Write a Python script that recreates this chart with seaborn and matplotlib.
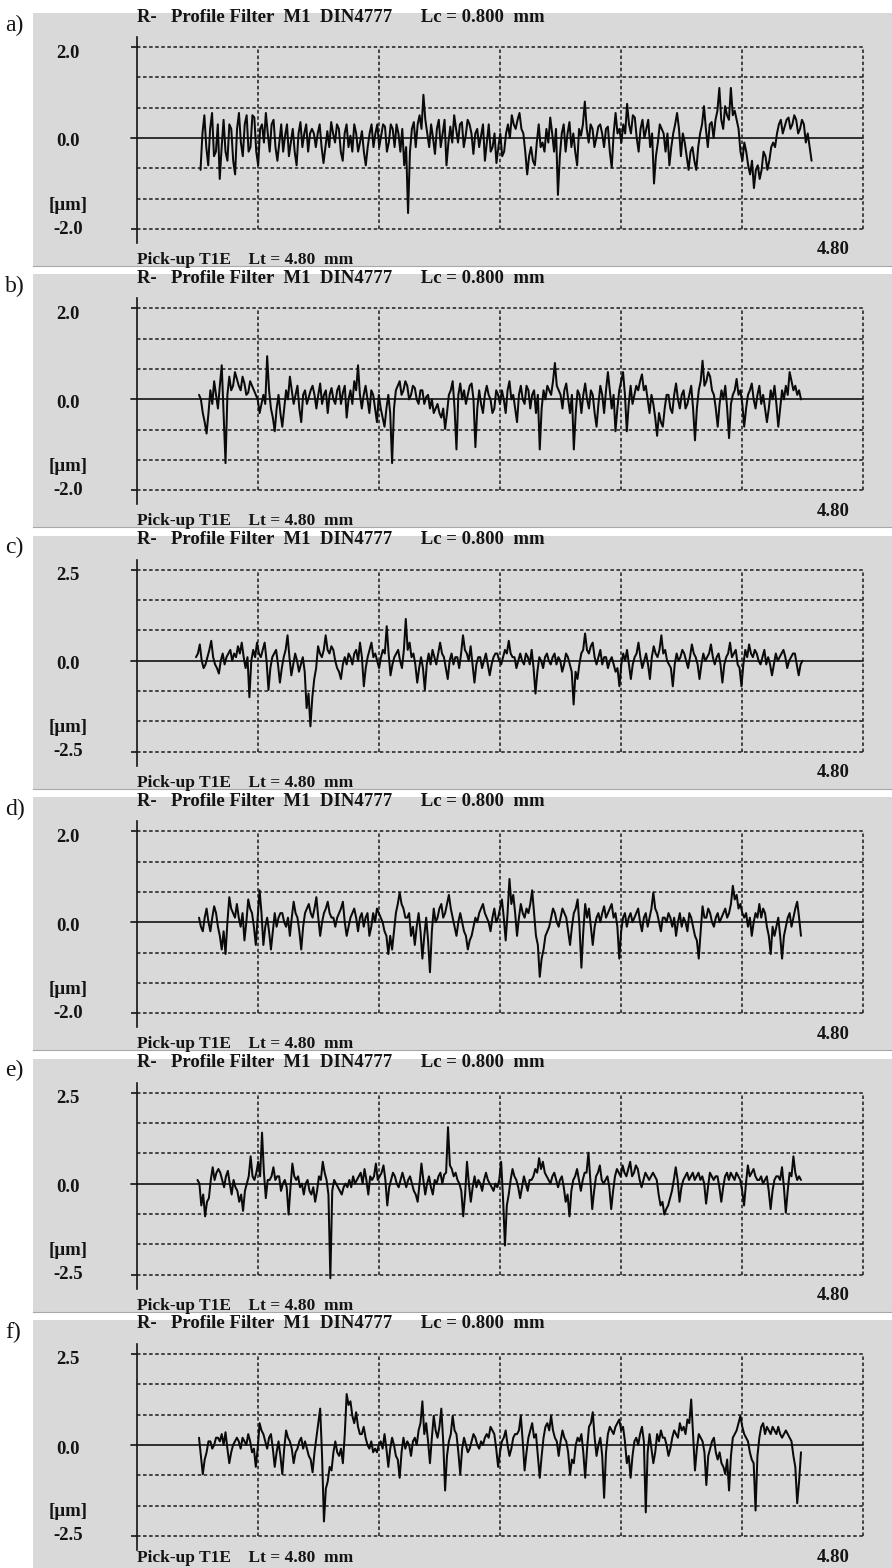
import numpy as np
import pandas as pd
import matplotlib
matplotlib.use("Agg")
import matplotlib.pyplot as plt
import seaborn as sns

sns.set_theme(style="white")
plt.rcParams["font.family"] = ["Liberation Serif", "DejaVu Serif"]

# ---------------- data ----------------
panel_labels = ["a)", "b)", "c)", "d)", "e)", "f)"]
y_limits = [2.0, 2.0, 2.5, 2.0, 2.5, 2.5]
y_top_labels = ["2.0", "2.0", "2.5", "2.0", "2.5", "2.5"]
y_bottom_labels = ["-2.0", "-2.0", "-2.5", "-2.0", "-2.5", "-2.5"]
x_start = [0.42, 0.41, 0.39, 0.41, 0.40, 0.41]   # mm, first sample
x_end = [4.46, 4.39, 4.40, 4.39, 4.39, 4.39]     # mm, last sample
grid_x = [0.8, 1.6, 2.4, 3.2, 4.0, 4.8]          # mm
title_text = "R-   Profile Filter  M1  DIN4777      Lc = 0.800  mm"
footer_text = "Pick-up T1E    Lt = 4.80  mm"
length_label = "4.80"
unit_label = "[µm]"

# main samples of each profile (µm)
profile_a = [
    -0.7, 0.5, -0.6, 0.55, -0.3, -0.9, 0.4, -0.5, 0.2, -0.8,
    0.55, -0.4, 0.5, -0.2, 0.45, -0.6, 0.3, 0.55, -0.3, 0.4,
    -0.5, 0.3, 0.05, -0.4, 0.2, -0.6, 0.35, 0.1, -0.3, 0.2,
    -0.2, 0.3, -0.55, 0.15, 0.35, -0.1, 0.2, -0.5, 0.3, 0.05,
    0.3, -0.3, 0.15, -0.6, 0.1, -0.2, 0.3, 0.05, 0.25, -0.1,
    0.2, 0.3, -0.3, -0.6, -1.65, 0.2, -0.2, 0.5, 0.95, 0.1,
    0.3, -0.35, 0.4, 0.1, -0.6, 0.25, 0.5, -0.1, 0.35, 0.05,
    0.3, -0.35, 0.2, 0.05, -0.5, 0.3, -0.2, -0.55, 0.1, -0.3,
    0.3, 0.5, 0.2, 0.55, 0.1, -0.8, -0.2, -0.6, 0.3, -0.1,
    0.2, 0.45, -0.3, -1.25, 0.1, -0.3, 0.35, 0.1, -0.6, 0.05,
    0.8, -0.1, 0.2, 0.0, 0.3, -0.2, 0.25, -0.65, 0.55, 0.2,
    0.3, 0.75, 0.1, 0.45, -0.3, 0.4, 0.2, -0.2, -1.0, -0.1,
    0.2, -0.3, -0.6, 0.1, 0.55, -0.4, -0.1, -0.7, -0.2, -0.7,
    0.1, 0.7, -0.2, 0.35, 0.4, 1.1, 0.2, 0.5, 1.1, 0.6,
    0.2, -0.5, -0.3, -0.8, -1.1, -0.6, -0.7, -0.4, -0.5, -0.1,
    0.1, 0.4, 0.25, 0.45, 0.3, 0.4, 0.2, 0.3, 0.1, -0.5]
between_a = [
    0.1, -0.2, 0.2, -0.4, 0.3, -0.2, -0.3, 0.3, -0.5, 0.2,
    -0.1, 0.3, -0.3, 0.5, -0.3, 0.2, -0.1, 0.1, 0.3, -0.2,
    -0.1, -0.3, 0.3, -0.1, -0.3, 0.1, -0.2, 0.3, 0.1, 0.1,
    0.1, -0.2, -0.2, -0.2, 0.1, 0.3, -0.3, 0.1, -0.2, -0.3,
    0.1, -0.1, -0.3, -0.2, 0.3, 0.1, -0.2, 0.3, -0.3, 0.3,
    -0.2, 0.1, 0.2, -0.2, -0.3, 0.35, 0.3, 0.2, 0.4, -0.2,
    0.0, 0.2, -0.2, 0.4, -0.1, -0.1, 0.2, 0.3, -0.2, 0.4,
    0.1, 0.1, -0.2, 0.3, -0.1, -0.3, 0.1, -0.2, -0.4, 0.1,
    0.0, 0.3, 0.4, 0.2, -0.3, -0.4, -0.5, -0.1, -0.2, -0.3,
    -0.1, 0.1, 0.2, -0.4, 0.3, 0.1, -0.2, -0.3, 0.2, 0.3,
    0.2, 0.3, -0.2, 0.25, 0.1, 0.2, -0.3, 0.1, 0.1, -0.1,
    0.1, 0.3, 0.5, 0.0, 0.2, 0.0, 0.4, 0.1, -0.4, 0.3,
    0.1, 0.1, -0.2, 0.3, 0.2, 0.1, -0.4, -0.3, -0.5, -0.2,
    0.3, 0.2, 0.3, 0.0, 0.6, 0.4, 0.7, 0.4, 0.5, 0.4,
    -0.3, -0.1, -0.6, -0.5, -0.7, -0.9, -0.3, -0.7, -0.2, -0.2,
    0.3, 0.1, 0.4, 0.2, 0.5, 0.1, 0.4, -0.1, -0.2]

profile_b = [
    0.1, -0.3, -0.75, 0.2, 0.4, -0.2, 0.75, -1.4, 0.5, 0.3,
    0.45, 0.2, 0.35, 0.15, 0.3, 0.1, -0.3, 0.1, 0.95, -0.2,
    -0.7, 0.1, -0.6, 0.2, 0.5, -0.1, 0.3, -0.5, 0.2, 0.05,
    0.3, -0.2, 0.35, 0.1, -0.3, 0.25, -0.1, 0.3, 0.15, -0.4,
    0.2, 0.4, 0.75, -0.2, 0.3, -0.3, 0.1, -0.5, -0.2, -0.6,
    0.1, -1.4, 0.2, 0.4, 0.2, 0.3, 0.1, 0.25, -0.1, 0.2,
    0.05, -0.2, -0.3, -0.1, -0.4, -0.65, 0.1, 0.4, -1.1, 0.35,
    0.2, 0.1, 0.35, -1.05, 0.2, -0.3, 0.3, 0.0, -0.2, 0.1,
    0.2, -0.3, 0.4, 0.1, -0.5, 0.3, -0.1, 0.2, 0.1, -0.3,
    -1.1, 0.2, 0.3, 0.1, 0.8, 0.2, -0.2, 0.35, -0.3, -1.1,
    0.2, -0.3, 0.35, -0.2, 0.1, -0.6, 0.3, -0.3, 0.6, -0.2,
    -0.7, 0.2, 0.6, -0.7, 0.3, 0.1, 0.2, 0.55, 0.3, -0.3,
    -0.1, -0.8, -0.5, -0.2, 0.1, -0.3, 0.35, -0.2, 0.2, -0.1,
    0.3, -0.9, 0.2, 0.85, 0.4, 0.5, 0.1, -0.6, 0.2, 0.3,
    -0.85, 0.1, 0.45, 0.2, -0.6, 0.1, 0.35, -0.2, 0.3, 0.1,
    -0.5, 0.2, 0.3, -0.6, 0.2, 0.3, 0.6, 0.2, 0.1, 0.0]
between_b = [
    0.0, -0.5, -0.3, -0.1, 0.1, 0.3, -0.3, 0.1, 0.2, 0.6,
    0.3, 0.5, 0.1, 0.4, 0.2, 0.0, -0.1, -0.1, 0.2, -0.4,
    -0.2, -0.3, -0.2, 0.0, 0.2, 0.1, -0.2, 0.1, -0.1, 0.2,
    0.1, 0.1, -0.1, 0.2, 0.1, 0.0, 0.2, -0.1, 0.3, 0.0,
    -0.1, 0.2, 0.1, 0.1, 0.0, 0.2, -0.2, 0.1, -0.4, -0.2,
    -0.3, -0.2, 0.3, 0.1, 0.4, 0.0, 0.3, 0.0, 0.2, -0.1,
    0.1, 0.0, -0.2, -0.3, -0.2, -0.3, 0.2, -0.2, 0.1, 0.0,
    -0.1, 0.3, 0.0, -0.2, -0.1, 0.1, 0.1, -0.3, 0.2, -0.1,
    0.0, 0.2, 0.0, -0.2, 0.1, 0.0, 0.3, -0.2, 0.2, 0.1,
    -0.2, 0.0, 0.2, 0.4, 0.3, 0.1, 0.2, 0.0, 0.1, -0.3,
    0.1, 0.1, 0.0, 0.2, -0.3, -0.1, 0.1, 0.2, 0.2, 0.1,
    -0.2, 0.4, 0.1, -0.1, -0.1, 0.3, 0.4, 0.2, 0.0, 0.1,
    -0.4, -0.3, -0.6, 0.1, -0.2, 0.1, 0.0, 0.1, -0.2, 0.1,
    -0.2, -0.2, 0.4, 0.3, 0.6, 0.2, -0.2, -0.1, 0.0, -0.2,
    -0.1, 0.2, 0.1, -0.1, -0.2, 0.2, 0.0, 0.1, -0.1, -0.2,
    -0.2, 0.0, -0.1, -0.2, 0.0, 0.1, 0.4, 0.3, 0.2]

profile_c = [
    0.1, 0.45, -0.2, 0.1, 0.55, -0.1, -0.35, 0.2, 0.1, 0.3,
    0.2, 0.4, 0.5, -0.2, -1.0, 0.3, 0.5, 0.1, 0.5, -0.8,
    0.1, 0.3, -0.6, 0.1, 0.7, -0.4, 0.2, -0.3, 0.1, -1.3,
    -1.8, -0.5, 0.4, 0.1, 0.7, 0.2, 0.3, -0.2, -0.5, 0.1,
    0.2, -0.1, 0.3, 0.5, -0.7, 0.1, 0.5, 0.2, -0.2, 0.3,
    0.95, -0.4, 0.1, 0.3, -0.2, 1.15, 0.5, 0.2, -0.6, 0.1,
    -0.8, 0.2, 0.3, -0.1, 0.5, 0.1, -0.5, 0.2, 0.1, -0.2,
    0.7, 0.2, 0.4, -0.6, 0.1, -0.2, 0.2, -0.4, 0.1, 0.2,
    -0.1, 0.3, 0.55, 0.1, -0.2, 0.2, -0.1, 0.1, 0.3, -0.9,
    0.1, -0.2, 0.2, -0.1, 0.2, 0.1, -0.3, 0.2, -0.1, -1.2,
    -0.5, 0.2, 0.75, 0.2, 0.5, -0.1, 0.3, 0.1, -0.2, 0.1,
    -0.3, -0.7, 0.2, 0.3, -0.5, 0.1, 0.5, -0.2, 0.2, -0.5,
    0.4, 0.1, 0.7, 0.3, -0.1, -0.7, 0.2, 0.1, 0.2, -0.2,
    0.45, 0.1, -0.5, 0.2, 0.1, 0.45, -0.1, 0.2, -0.6, 0.1,
    0.5, 0.2, -0.1, -0.7, 0.3, 0.45, 0.1, 0.2, -0.1, 0.3,
    0.1, -0.4, 0.2, 0.1, 0.3, -0.2, 0.1, 0.2, -0.4, 0.0]
between_c = [
    0.2, 0.0, -0.1, 0.3, 0.1, -0.2, 0.0, -0.1, 0.2, 0.0,
    0.1, 0.2, 0.1, 0.1, 0.0, 0.1, 0.2, 0.3, 0.0, -0.2,
    0.2, -0.1, -0.2, 0.3, 0.1, -0.1, 0.0, -0.1, -0.3, -0.9,
    -1.0, -0.2, 0.2, 0.3, 0.3, 0.4, 0.0, -0.3, -0.1, -0.1,
    0.1, 0.2, 0.0, 0.1, -0.2, 0.3, 0.1, 0.0, 0.1, 0.2,
    0.2, -0.1, 0.2, 0.0, 0.3, 0.3, 0.1, -0.1, -0.2, -0.2,
    -0.1, -0.1, 0.1, 0.2, 0.2, -0.2, 0.0, -0.1, 0.1, 0.2,
    0.3, 0.0, -0.1, -0.1, 0.1, 0.0, -0.1, -0.1, 0.2, 0.0,
    0.1, 0.2, 0.2, 0.1, 0.0, 0.0, 0.2, -0.1, -0.2, -0.3,
    0.0, 0.1, 0.0, 0.1, -0.1, 0.0, -0.1, 0.1, -0.3, -0.3,
    -0.1, 0.3, 0.3, 0.4, 0.1, 0.1, -0.1, 0.1, 0.0, -0.1,
    -0.2, -0.1, 0.0, -0.1, -0.1, 0.2, 0.1, 0.0, -0.1, 0.1,
    0.2, 0.3, 0.2, 0.0, -0.2, -0.1, 0.0, 0.3, 0.0, 0.1,
    0.2, -0.1, -0.1, 0.0, 0.2, 0.1, 0.1, -0.1, -0.1, 0.2,
    0.1, 0.3, -0.2, -0.1, 0.1, 0.2, 0.3, 0.0, 0.1, -0.1,
    -0.1, -0.1, 0.0, 0.2, 0.1, 0.0, 0.2, -0.1, -0.1]

profile_d = [
    0.1, -0.2, 0.3, -0.2, 0.35, -0.1, -0.6, -0.7, 0.55, 0.2,
    0.4, -0.1, -0.4, 0.5, 0.2, -0.5, 0.7, -0.5, 0.1, -0.6,
    0.2, 0.1, 0.2, -0.1, -0.3, 0.45, 0.1, -0.6, 0.2, 0.4,
    0.1, 0.55, -0.3, 0.2, 0.45, 0.1, -0.1, 0.2, 0.45, -0.3,
    0.1, 0.3, -0.2, 0.2, 0.1, -0.3, 0.2, 0.3, 0.1, -0.2,
    -0.7, -0.6, 0.2, 0.65, 0.3, 0.1, -0.3, -0.5, 0.2, -0.8,
    0.1, -1.1, 0.3, 0.1, 0.4, 0.2, 0.6, 0.1, -0.3, 0.2,
    -0.2, -0.6, -0.3, 0.1, 0.2, 0.4, 0.1, -0.2, 0.3, 0.1,
    0.5, -0.4, 0.95, 0.6, -0.3, 0.4, 0.1, 0.2, 0.7, -0.3,
    -1.2, -0.6, -0.2, 0.1, 0.2, -0.1, 0.3, 0.1, -0.5, 0.2,
    0.5, -1.0, 0.4, 0.3, -0.5, 0.1, 0.0, 0.35, 0.2, 0.4,
    0.2, -0.8, 0.1, -0.1, 0.2, 0.1, 0.3, -0.2, 0.2, 0.1,
    0.65, 0.2, -0.2, 0.1, 0.2, -0.1, -0.3, 0.2, 0.1, -0.2,
    0.1, -0.3, -0.8, 0.35, 0.1, 0.2, -0.1, 0.2, 0.1, 0.3,
    0.2, 0.8, 0.6, 0.4, 0.1, -0.1, -0.3, 0.2, 0.4, 0.3,
    -0.1, -0.7, -0.3, 0.1, -0.8, -0.1, 0.2, 0.1, 0.45, -0.3]
between_d = [
    -0.1, 0.1, 0.0, 0.1, 0.2, -0.3, -0.2, 0.0, 0.3, 0.1,
    0.1, 0.2, 0.0, 0.3, -0.1, 0.1, 0.2, -0.1, -0.2, -0.2,
    -0.1, 0.2, 0.0, 0.1, 0.1, 0.2, -0.2, -0.1, 0.3, 0.2,
    0.3, 0.1, 0.0, 0.3, 0.2, 0.1, 0.1, 0.3, 0.0, -0.1,
    0.2, 0.1, 0.1, -0.1, 0.2, -0.1, 0.0, 0.2, 0.0, -0.3,
    -0.3, -0.2, 0.4, 0.4, 0.1, 0.2, -0.1, -0.1, -0.2, -0.3,
    -0.4, -0.2, 0.0, 0.3, 0.1, 0.4, 0.3, -0.1, 0.0, 0.0,
    -0.3, -0.4, -0.1, 0.0, 0.3, 0.2, 0.0, 0.1, 0.0, 0.3,
    0.1, 0.2, 0.4, 0.2, 0.1, 0.2, 0.3, 0.4, 0.2, -0.5,
    -0.8, -0.3, -0.1, 0.3, 0.0, 0.1, 0.2, -0.2, -0.1, 0.3,
    -0.1, -0.2, 0.1, -0.1, -0.1, 0.2, 0.2, 0.1, 0.3, 0.1,
    -0.1, -0.2, 0.2, 0.1, 0.0, 0.2, 0.0, 0.1, -0.1, 0.3,
    0.3, 0.0, 0.1, 0.0, 0.1, 0.1, 0.0, -0.1, 0.0, 0.2,
    -0.1, -0.4, -0.2, 0.1, 0.3, 0.0, 0.1, 0.0, 0.2, 0.1,
    0.4, 0.5, 0.3, 0.2, 0.2, 0.1, 0.0, 0.1, 0.1, 0.2,
    -0.3, -0.1, -0.1, -0.3, -0.3, 0.1, -0.1, 0.3, 0.1]

profile_e = [
    0.1, -0.6, -0.9, -0.4, 0.45, 0.3, 0.3, -0.1, 0.35, -0.3,
    -0.1, -0.5, -0.75, 0.0, 0.75, 0.1, 0.6, 1.4, -0.4, 0.1,
    0.45, 0.2, -0.2, 0.1, -0.85, 0.55, 0.1, -0.1, -0.3, 0.1,
    -0.3, -0.5, 0.2, 0.6, 0.1, -2.6, 0.1, -0.1, -0.3, 0.0,
    0.1, 0.2, 0.1, 0.3, 0.4, -0.3, 0.1, 0.55, 0.2, 0.5,
    -0.6, 0.1, 0.2, -0.1, 0.3, -0.1, 0.2, -0.2, -0.5, 0.55,
    -0.3, 0.2, -0.3, 0.0, 0.3, 0.25, 1.55, 0.4, 0.3, 0.0,
    -0.9, 0.6, -0.5, 0.2, 0.1, -0.2, 0.3, 0.0, -0.2, -0.1,
    0.6, -1.7, -0.3, 0.4, 0.1, -0.4, 0.2, -0.2, 0.1, 0.4,
    0.7, 0.6, 0.2, 0.0, 0.3, -0.1, 0.2, -0.5, -0.9, 0.1,
    0.4, -0.2, 0.3, 0.85, -0.7, 0.2, 0.5, 0.0, 0.2, -0.7,
    0.2, 0.3, 0.5, 0.2, 0.6, 0.3, 0.4, -0.1, 0.3, 0.1,
    0.3, 0.1, -0.6, -0.85, -0.6, -0.2, 0.45, -0.5, 0.1, 0.3,
    0.2, 0.1, 0.3, 0.2, -0.55, 0.3, 0.1, 0.2, -0.5, 0.2,
    0.1, 0.2, 0.3, 0.1, -0.6, 0.5, 0.3, 0.2, 0.1, 0.0,
    0.2, -0.7, 0.1, 0.2, 0.45, -0.8, 0.3, 0.75, 0.1, 0.1]
between_e = [
    0.0, -0.3, -0.5, 0.1, 0.1, 0.4, 0.1, 0.2, 0.0, 0.1,
    -0.2, -0.3, -0.2, 0.2, 0.2, 0.3, 0.2, 0.3, 0.1, 0.2,
    0.1, 0.2, 0.0, -0.1, -0.1, 0.2, 0.2, 0.0, 0.0, -0.2,
    -0.1, -0.2, 0.1, 0.3, -0.3, -0.2, 0.0, -0.2, -0.1, -0.1,
    -0.1, 0.0, 0.2, 0.0, 0.1, 0.2, 0.2, 0.1, 0.3, 0.1,
    -0.1, 0.3, 0.0, 0.1, 0.1, 0.1, 0.0, -0.3, 0.0, 0.1,
    0.0, -0.1, 0.1, 0.2, 0.0, 0.3, 0.5, 0.2, 0.1, -0.2,
    -0.3, 0.0, -0.1, -0.1, 0.0, 0.1, 0.1, -0.1, 0.0, 0.1,
    -0.4, -0.6, 0.1, 0.2, -0.1, -0.1, 0.0, 0.1, 0.2, 0.3,
    0.4, 0.3, 0.1, 0.2, 0.1, 0.1, -0.1, -0.3, -0.2, 0.2,
    0.1, 0.1, 0.3, 0.1, -0.2, 0.3, 0.1, 0.1, -0.1, -0.2,
    0.4, 0.2, 0.3, 0.4, 0.2, 0.5, 0.1, 0.1, 0.2, 0.2,
    0.2, -0.3, -0.5, -0.7, -0.4, 0.1, 0.1, -0.1, 0.2, 0.1,
    0.3, 0.2, 0.1, 0.0, -0.1, 0.2, 0.2, -0.1, -0.1, 0.3,
    0.3, 0.1, 0.2, -0.2, 0.0, 0.2, 0.4, 0.1, 0.2, 0.1,
    -0.2, -0.2, 0.2, 0.1, -0.1, -0.2, 0.2, 0.3, 0.2]

profile_f = [
    0.2, -0.8, -0.2, 0.1, 0.0, 0.2, 0.3, 0.35, -0.5, 0.0,
    0.2, -0.1, 0.1, 0.3, -0.2, -0.6, 0.6, 0.3, -0.1, 0.3,
    -0.6, 0.1, -0.8, 0.4, 0.1, -0.5, -0.1, 0.2, 0.1, -0.3,
    -0.75, 0.2, 1.0, -2.1, -1.0, -0.7, 0.1, -0.3, -0.5, 1.4,
    1.2, 0.6, 0.5, 0.3, 0.2, -0.1, -0.2, -0.2, 0.1, 0.3,
    -0.6, 0.2, -0.3, -0.9, 0.2, 0.1, -0.3, 0.2, 0.4, 1.2,
    0.6, -0.5, 0.8, 0.2, 1.0, -1.25, 0.1, 0.8, 0.3, -0.8,
    0.2, -0.2, 0.1, 0.2, -0.1, 0.0, 0.3, 0.5, 0.3, -0.6,
    0.1, 0.4, -0.3, 0.2, 0.3, 0.8, -0.7, 0.2, 0.6, 0.3,
    -0.9, 0.2, 0.6, 0.8, 0.2, -0.3, 0.4, 0.1, -0.8, -0.5,
    0.2, 0.3, -0.9, 0.5, 0.9, -0.3, 0.2, -1.45, 0.3, 0.4,
    0.5, 0.7, 0.5, -0.5, -0.9, 0.1, 0.0, 0.5, -1.85, 0.3,
    -0.5, 0.3, 0.4, 0.2, -0.3, 0.2, 0.3, 0.6, 0.5, 0.7,
    1.25, -0.7, 0.3, 0.1, -1.1, -0.1, 0.2, -0.4, -0.5, -0.8,
    -1.25, 0.2, 0.4, 0.8, 0.3, 0.1, -0.4, -1.8, 0.2, 0.6,
    0.5, 0.3, 0.4, 0.5, 0.2, 0.4, 0.2, -0.3, -1.6, -0.2]
between_f = [
    -0.3, -0.4, 0.1, -0.1, 0.2, 0.1, 0.0, -0.1, -0.2, 0.1,
    0.1, 0.2, 0.0, 0.1, -0.1, -0.1, 0.4, 0.1, 0.2, -0.1,
    -0.2, -0.3, -0.1, 0.2, -0.1, -0.2, 0.1, -0.1, -0.1, -0.4,
    -0.2, 0.6, -0.3, -1.2, -0.6, -0.2, -0.2, -0.1, 0.3, 1.1,
    0.8, 0.9, 0.3, 0.5, 0.0, 0.1, -0.1, 0.0, -0.1, -0.1,
    -0.1, 0.0, -0.4, -0.2, -0.1, 0.0, 0.1, 0.0, 0.6, 0.3,
    0.1, 0.2, 0.4, 0.5, 0.1, -0.3, 0.3, 0.4, -0.2, -0.1,
    0.0, -0.1, 0.3, 0.0, 0.1, 0.2, 0.2, 0.4, -0.1, -0.2,
    0.2, 0.0, -0.1, 0.3, 0.4, 0.1, -0.2, 0.4, 0.2, -0.3,
    -0.3, 0.5, 0.4, 0.4, 0.1, 0.1, 0.2, -0.2, -0.4, 0.0,
    0.1, -0.2, -0.1, 0.6, 0.2, 0.0, -0.3, -0.2, 0.5, 0.3,
    0.6, 0.4, 0.1, -0.3, -0.3, 0.2, 0.3, 0.1, -0.2, -0.1,
    -0.2, 0.1, 0.2, 0.0, -0.1, 0.4, 0.2, 0.4, 0.3, 0.6,
    0.3, -0.1, 0.2, -0.2, -0.3, 0.1, -0.2, -0.2, -0.6, -0.4,
    -0.3, 0.3, 0.6, 0.5, 0.2, -0.2, -0.5, -0.3, 0.5, 0.3,
    0.4, 0.5, 0.3, 0.3, 0.3, 0.3, 0.1, -0.6, -1.0]

main_series = [profile_a, profile_b, profile_c, profile_d, profile_e, profile_f]
between_series = [between_a, between_b, between_c, between_d, between_e, between_f]


def merge(main, between):
    """Put each in-between reading after its main sample, in order along x."""
    out = []
    for i, v in enumerate(main):
        out.append(v)
        if i < len(between):
            out.append(between[i])
    return out


# ---------------- layout (pixels) ----------------
W, H = 892, 1568
fig = plt.figure(figsize=(W / 100, H / 100), dpi=100)
fig.patch.set_facecolor("white")


def fx(px):
    return px / W


def fy(py):
    return 1 - py / H


PANEL_GRAY = "#d9d9d9"
INK = "#141414"
AX_LEFT, AX_W = 137, 726          # x=0 mm .. 4.8 mm
HALF = 91                          # px from zero line to +/- limit
dash = (0, (2.2, 1.6))

for k in range(6):
    yz = 138 + 261.4 * k          # zero line (px from top)
    ymax = y_limits[k]

    # gray panel background (its own axes, drawn below the plot axes)
    g_top, g_bot = yz - 125, yz + 128
    bg = fig.add_axes([fx(33), fy(g_bot), 1 - fx(33), (g_bot - g_top) / H], zorder=0)
    bg.set_facecolor(PANEL_GRAY)
    bg.set_xticks([])
    bg.set_yticks([])
    for side in ["top", "right", "left"]:
        bg.spines[side].set_visible(False)
    bg.spines["bottom"].set_color("#a8a8a8")
    bg.spines["bottom"].set_linewidth(0.8)

    top_px, bot_px = yz - 101, yz + 105
    ax = fig.add_axes([fx(AX_LEFT), fy(bot_px), AX_W / W, (bot_px - top_px) / H], zorder=2)
    ax.set_facecolor("none")
    ylo = -ymax * (bot_px - yz) / HALF
    yhi = ymax * (yz - top_px) / HALF
    ax.set_xlim(0, 4.8)
    ax.set_ylim(ylo, yhi)

    for side in ["top", "right", "bottom"]:
        ax.spines[side].set_visible(False)
    ax.spines["left"].set_color(INK)
    ax.spines["left"].set_linewidth(1.2)
    ax.set_xticks([])
    ax.set_yticks([-ymax, ymax])
    ax.set_yticklabels([])
    ax.tick_params(axis="y", left=True, direction="out", length=4.5, width=1.2, color=INK)

    # dashed grid
    for frac in [-1, -2 / 3, -1 / 3, 1 / 3, 2 / 3, 1]:
        ax.axhline(frac * ymax, color="#222222", lw=1.15, linestyle=dash, zorder=1)
    f_lo = (-ymax - ylo) / (yhi - ylo)
    f_hi = (ymax - ylo) / (yhi - ylo)
    for gx in grid_x:
        ax.axvline(gx, ymin=f_lo, ymax=f_hi, color="#222222", lw=1.15, linestyle=dash,
                   zorder=1, clip_on=False)
    ax.axhline(0, xmin=-6 / AX_W, xmax=1, color="#222222", lw=1.3, zorder=2, clip_on=False)

    vals = merge(main_series[k], between_series[k])
    df = pd.DataFrame({"x": np.linspace(x_start[k], x_end[k], len(vals)), "z": vals})
    sns.lineplot(data=df, x="x", y="z", ax=ax, color="#0a0a0a", lw=1.45,
                 estimator=None, sort=False, zorder=3)
    ax.set_xlabel("")
    ax.set_ylabel("")

    # texts
    foot_y = min(yz + 122, H - 10)
    fig.text(fx(137), fy(yz - 121), title_text, ha="left", va="center",
             fontsize=13.5, fontweight="bold", color=INK, zorder=5)
    fig.text(fx(137), fy(foot_y), footer_text, ha="left", va="center",
             fontsize=12.5, fontweight="bold", color=INK, zorder=5)
    fig.text(fx(850), fy(yz + 112), length_label, ha="right", va="center",
             fontsize=13.5, fontweight="bold", color=INK, zorder=5)
    fig.text(fx(68), fy(yz - 85), y_top_labels[k], ha="center", va="center",
             fontsize=13.5, fontweight="bold", color=INK, zorder=5)
    fig.text(fx(68), fy(yz + 4), "0.0", ha="center", va="center",
             fontsize=13.5, fontweight="bold", color=INK, zorder=5)
    fig.text(fx(68), fy(yz + 67), unit_label, ha="center", va="center",
             fontsize=13.5, fontweight="bold", color=INK, zorder=5)
    fig.text(fx(68), fy(yz + 91), y_bottom_labels[k], ha="center", va="center",
             fontsize=13.5, fontweight="bold", color=INK, zorder=5)
    fig.text(fx(5), fy(yz - 113), panel_labels[k], ha="left", va="center",
             fontsize=17, color=INK, zorder=5)

fig.savefig("out.png", dpi=100, facecolor="white")
